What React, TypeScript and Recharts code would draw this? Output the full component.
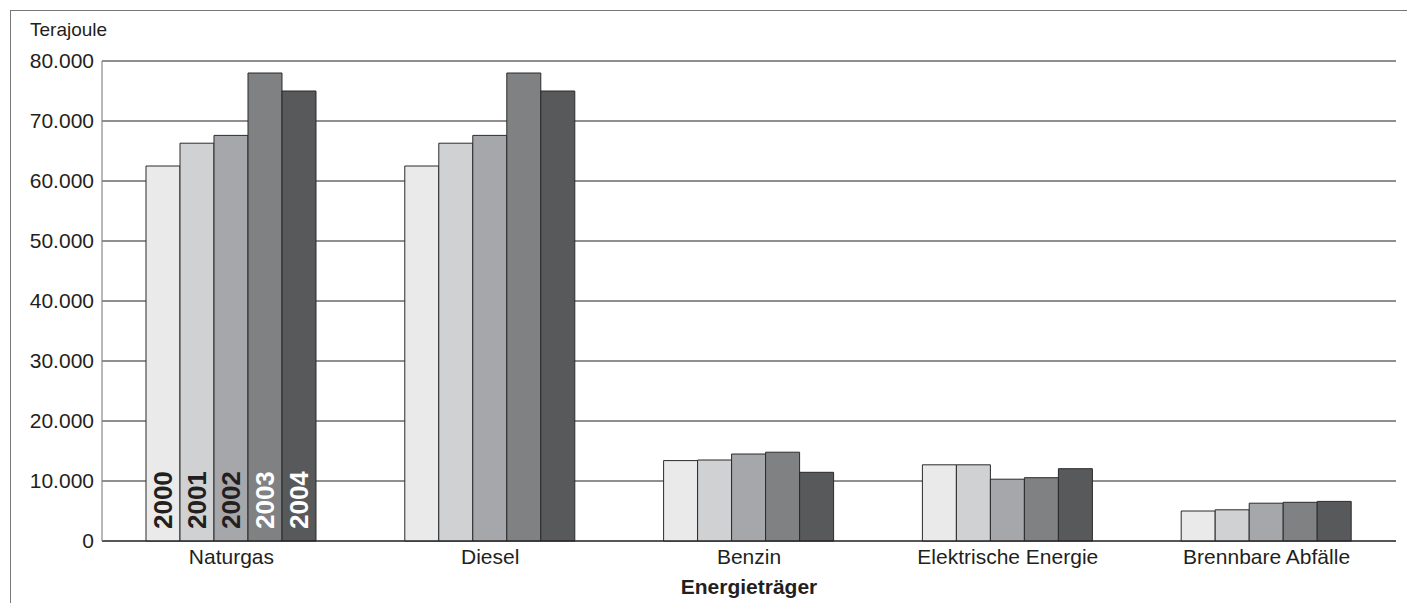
import React from "react";
import {
  BarChart,
  Bar,
  XAxis,
  YAxis,
  CartesianGrid,
  LabelList,
  Label,
} from "recharts";

const categories = [
  "Naturgas",
  "Diesel",
  "Benzin",
  "Elektrische Energie",
  "Brennbare Abfälle",
];
const years = ["2000", "2001", "2002", "2003", "2004"];
const values2000 = [62500, 62500, 13400, 12700, 5000];
const values2001 = [66300, 66300, 13500, 12700, 5200];
const values2002 = [67600, 67600, 14500, 10300, 6300];
const values2003 = [78000, 78000, 14800, 10550, 6450];
const values2004 = [75000, 75000, 11450, 12050, 6600];
const yTicks = [0, 10000, 20000, 30000, 40000, 50000, 60000, 70000, 80000];

const seriesValues = [values2000, values2001, values2002, values2003, values2004];
const fills = ["#e9eae9", "#d0d1d3", "#a6a7aa", "#808183", "#58595b"];
const labelColors = ["#231f20", "#231f20", "#231f20", "#ffffff", "#ffffff"];

const data = categories.map((name, i) => {
  const row: Record<string, string | number> = { name };
  years.forEach((y, s) => {
    row[y] = seriesValues[s][i];
  });
  return row;
});

const fmt = (v: number) => (v === 0 ? "0" : `${v / 1000}.000`);

const yearLabel = (year: string, color: string) => (props: any) => {
  const { x, y, width, height, index } = props;
  if (index !== 0) return null;
  const cx = Number(x) + Number(width) / 2;
  const by = Number(y) + Number(height) - 12;
  return (
    <text
      x={cx}
      y={by}
      transform={`rotate(-90 ${cx} ${by})`}
      textAnchor="start"
      dominantBaseline="central"
      fill={color}
      fontSize={26}
      fontWeight="bold"
    >
      {year}
    </text>
  );
};

export default function App() {
  return (
    <div
      style={{
        position: "absolute",
        left: 0,
        top: 0,
        width: 1407,
        height: 603,
        background: "#fff",
        fontFamily: "'Liberation Sans', Arial, sans-serif",
      }}
    >
      <div
        style={{
          position: "absolute",
          left: 10,
          top: 10,
          right: 0,
          bottom: 0,
          borderTop: "1.5px solid #777",
          borderLeft: "1.5px solid #777",
        }}
      />
      <div
        style={{
          position: "absolute",
          left: 30,
          top: 19,
          fontSize: 19,
          color: "#231f20",
        }}
      >
        Terajoule
      </div>
      <div style={{ position: "absolute", left: 0, top: 0 }}>
        <BarChart
          width={1407}
          height={603}
          data={data}
          margin={{ top: 61, right: 11, bottom: 0, left: 0 }}
          barCategoryGap="17%"
          barGap={0}
        >
          <CartesianGrid vertical={false} stroke="#231f20" strokeWidth={1.2} />
          <XAxis
            dataKey="name"
            height={62}
            tickLine={false}
            axisLine={{ stroke: "#231f20", strokeWidth: 1.2 }}
            tick={{ fill: "#231f20", fontSize: 21 }}
            tickMargin={2}
            interval={0}
          >
            <Label
              value="Energieträger"
              position="insideBottom"
              offset={9}
              style={{ fill: "#231f20", fontSize: 21, fontWeight: "bold" }}
            />
          </XAxis>
          <YAxis
            width={102}
            domain={[0, 80000]}
            ticks={yTicks}
            tickFormatter={fmt}
            tickLine={false}
            axisLine={{ stroke: "#888", strokeWidth: 1.2 }}
            tick={{ fill: "#231f20", fontSize: 21 }}
            interval={0}
          />
          <YAxis
            yAxisId="right"
            orientation="right"
            width={0}
            domain={[0, 80000]}
            tick={false}
            tickLine={false}
            axisLine={{ stroke: "#555", strokeWidth: 1.2 }}
          />
          {years.map((y, s) => (
            <Bar
              key={y}
              dataKey={y}
              fill={fills[s]}
              stroke="#2b2b2b"
              strokeWidth={1}
              isAnimationActive={false}
            >
              <LabelList dataKey={y} content={yearLabel(y, labelColors[s])} />
            </Bar>
          ))}
        </BarChart>
      </div>
    </div>
  );
}
